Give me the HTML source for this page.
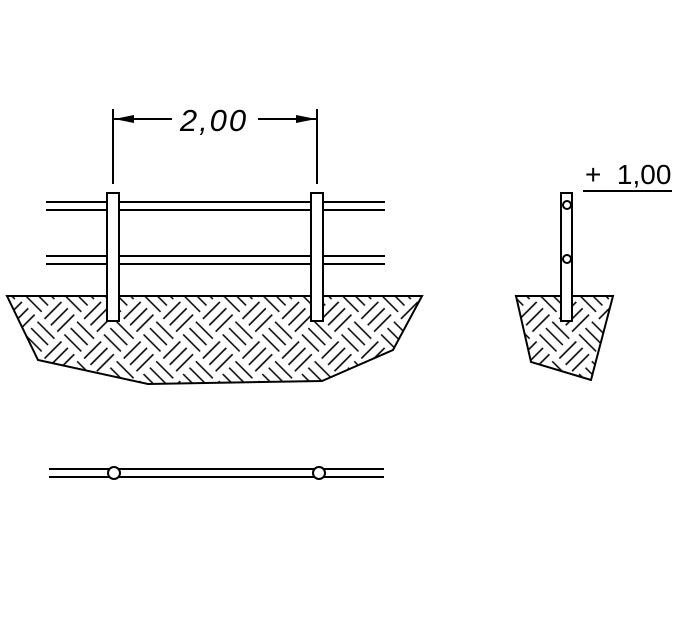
<!DOCTYPE html>
<html><head><style>html,body{margin:0;padding:0;background:#fff}</style></head>
<body>
<svg width="700" height="619" viewBox="0 0 700 619" xmlns="http://www.w3.org/2000/svg">
<defs>
<pattern id="bw" width="56" height="56" patternUnits="userSpaceOnUse" patternTransform="rotate(45)">
<g stroke="#000" stroke-width="1.6">
<line x1="2" y1="5" x2="26" y2="5"/><line x1="2" y1="14" x2="26" y2="14"/><line x1="2" y1="23" x2="26" y2="23"/>
<line x1="33" y1="2" x2="33" y2="26"/><line x1="42" y1="2" x2="42" y2="26"/><line x1="51" y1="2" x2="51" y2="26"/>
<line x1="5" y1="30" x2="5" y2="54"/><line x1="14" y1="30" x2="14" y2="54"/><line x1="23" y1="30" x2="23" y2="54"/>
<line x1="30" y1="33" x2="54" y2="33"/><line x1="30" y1="42" x2="54" y2="42"/><line x1="30" y1="51" x2="54" y2="51"/>
</g>
</pattern>
</defs>
<g stroke="#000" stroke-width="2" fill="none">
<polygon points="7,296 422,296 393,350 322,381 148,384 38,360" fill="url(#bw)"/>
<line x1="46" y1="202" x2="385" y2="202"/><line x1="46" y1="210" x2="385" y2="210"/>
<line x1="46" y1="256" x2="385" y2="256"/><line x1="46" y1="264" x2="385" y2="264"/>
<rect x="107" y="193" width="12" height="128" fill="#fff"/>
<rect x="311" y="193" width="12" height="128" fill="#fff"/>
<line x1="113" y1="109" x2="113" y2="184"/><line x1="317" y1="109" x2="317" y2="184"/>
<line x1="113" y1="119" x2="172" y2="119"/><line x1="258" y1="119" x2="317" y2="119"/>
<polygon points="114,119 134,115 134,123" fill="#000" stroke="none"/>
<polygon points="316,119 296,115 296,123" fill="#000" stroke="none"/>
<polygon points="516,296 613,296 591,380 531,362" fill="url(#bw)"/>
<rect x="561" y="193" width="11" height="128" fill="#fff"/>
<circle cx="567" cy="205" r="4"/><circle cx="567" cy="259" r="4"/>
<line x1="583" y1="191" x2="672" y2="191"/>
<line x1="49" y1="469" x2="384" y2="469"/><line x1="49" y1="477" x2="384" y2="477"/>
<circle cx="114" cy="473" r="6" fill="#fff"/><circle cx="319" cy="473" r="6" fill="#fff"/>
</g>
<text x="214" y="131" font-family="Liberation Sans, sans-serif" font-size="31" font-style="italic" letter-spacing="2" text-anchor="middle" fill="#000">2,00</text>
<text x="585" y="184" font-family="Liberation Sans, sans-serif" font-size="28" fill="#000" xml:space="preserve">+  1,00</text>
</svg>
</body></html>
